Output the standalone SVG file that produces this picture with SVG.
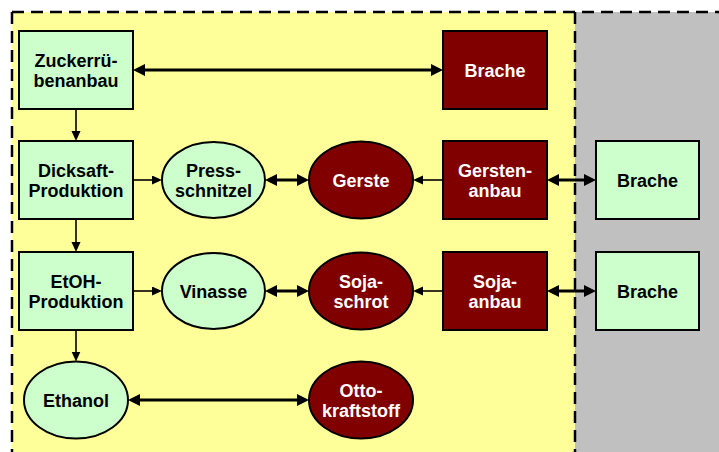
<svg xmlns="http://www.w3.org/2000/svg" width="719" height="452" viewBox="0 0 719 452">
<style>
.g{fill:#CCFFCC;stroke:#000;stroke-width:2}
.r{fill:#800000;stroke:#000;stroke-width:2}
.tg{font-family:"Liberation Sans",Arial,sans-serif;font-weight:bold;font-size:18px;fill:#000;text-anchor:middle}
.tr{font-family:"Liberation Sans",Arial,sans-serif;font-weight:bold;font-size:18px;fill:#fff;text-anchor:middle}
.thin{stroke:#000;stroke-width:1.6;fill:none;marker-end:url(#ah)}
.thick{stroke:#000;stroke-width:3;fill:none;marker-start:url(#ahb);marker-end:url(#ahb)}
.dash{stroke:#000;stroke-width:2.5;stroke-dasharray:12,7;fill:none}
</style>
<defs>
<marker id="ah" markerUnits="userSpaceOnUse" markerWidth="10" markerHeight="10" refX="5" refY="4.5" orient="auto"><path d="M0,0 L10,4.5 L0,9 z" fill="#000"/></marker>
<marker id="ahb" markerUnits="userSpaceOnUse" markerWidth="13" markerHeight="13" refX="6" refY="6" orient="auto-start-reverse"><path d="M0,0 L12,6 L0,12 z" fill="#000"/></marker>
</defs>
<g id="background">
<rect x="12" y="12" width="563" height="450" fill="#FFFF99"/>
<rect x="575" y="12" width="150" height="450" fill="#C0C0C0"/>
<path class="dash" d="M12,12 H719 M12,12 V452 M575,12 V452"/>
</g>
<g id="connectors">
<line class="thick" x1="139" y1="70" x2="437" y2="70"/>
<line class="thin" x1="76" y1="109" x2="76" y2="136"/>
<line class="thin" x1="76" y1="219" x2="76" y2="247"/>
<line class="thin" x1="76" y1="330" x2="76" y2="356.5"/>
<line class="thin" x1="133" y1="180" x2="157" y2="180"/>
<line class="thin" x1="133" y1="291" x2="157" y2="291"/>
<line class="thick" x1="271" y1="180" x2="303" y2="180"/>
<line class="thick" x1="271" y1="291" x2="303" y2="291"/>
<line class="thin" x1="443" y1="180" x2="418" y2="180"/>
<line class="thin" x1="443" y1="291" x2="418" y2="291"/>
<line class="thick" x1="553" y1="180" x2="590" y2="180"/>
<line class="thick" x1="553" y1="291" x2="590" y2="291"/>
<line class="thick" x1="134" y1="400" x2="303" y2="400"/>
</g>
<g id="zuckerruebenanbau"><rect class="g" x="19" y="31" width="114" height="78"/><text class="tg" x="76" y="66.5">Zuckerrü-</text><text class="tg" x="76" y="87">benanbau</text></g>
<g id="brache1"><rect class="r" x="443" y="31" width="104" height="78"/><text class="tr" x="495" y="76.5">Brache</text></g>
<g id="dicksaft"><rect class="g" x="19" y="141" width="114" height="78"/><text class="tg" x="76" y="176.5">Dicksaft-</text><text class="tg" x="76" y="197">Produktion</text></g>
<g id="pressschnitzel"><ellipse class="g" cx="213.5" cy="180" rx="51.5" ry="38"/><text class="tg" x="213.5" y="176.5">Press-</text><text class="tg" x="213.5" y="197">schnitzel</text></g>
<g id="gerste"><ellipse class="r" cx="361" cy="180" rx="52" ry="38.5"/><text class="tr" x="361" y="186.5">Gerste</text></g>
<g id="gerstenanbau"><rect class="r" x="443" y="141" width="104" height="78"/><text class="tr" x="495" y="176.5">Gersten-</text><text class="tr" x="495" y="197">anbau</text></g>
<g id="brache2"><rect class="g" x="596" y="141" width="103" height="78"/><text class="tg" x="647.5" y="186.5">Brache</text></g>
<g id="etoh"><rect class="g" x="19" y="252" width="114" height="78"/><text class="tg" x="76" y="287.5">EtOH-</text><text class="tg" x="76" y="308">Produktion</text></g>
<g id="vinasse"><ellipse class="g" cx="213.5" cy="291" rx="51.5" ry="38"/><text class="tg" x="213.5" y="297.5">Vinasse</text></g>
<g id="sojaschrot"><ellipse class="r" cx="361" cy="291" rx="52" ry="38.5"/><text class="tr" x="361" y="287.5">Soja-</text><text class="tr" x="361" y="308">schrot</text></g>
<g id="sojaanbau"><rect class="r" x="443" y="252" width="104" height="78"/><text class="tr" x="495" y="287.5">Soja-</text><text class="tr" x="495" y="308">anbau</text></g>
<g id="brache3"><rect class="g" x="596" y="252" width="103" height="78"/><text class="tg" x="647.5" y="297.5">Brache</text></g>
<g id="ethanol"><ellipse class="g" cx="76" cy="400" rx="52" ry="38.5"/><text class="tg" x="76" y="406.5">Ethanol</text></g>
<g id="ottokraftstoff"><ellipse class="r" cx="361" cy="400" rx="52" ry="38.5"/><text class="tr" x="361" y="396.5">Otto-</text><text class="tr" x="361" y="417">kraftstoff</text></g>
</svg>
